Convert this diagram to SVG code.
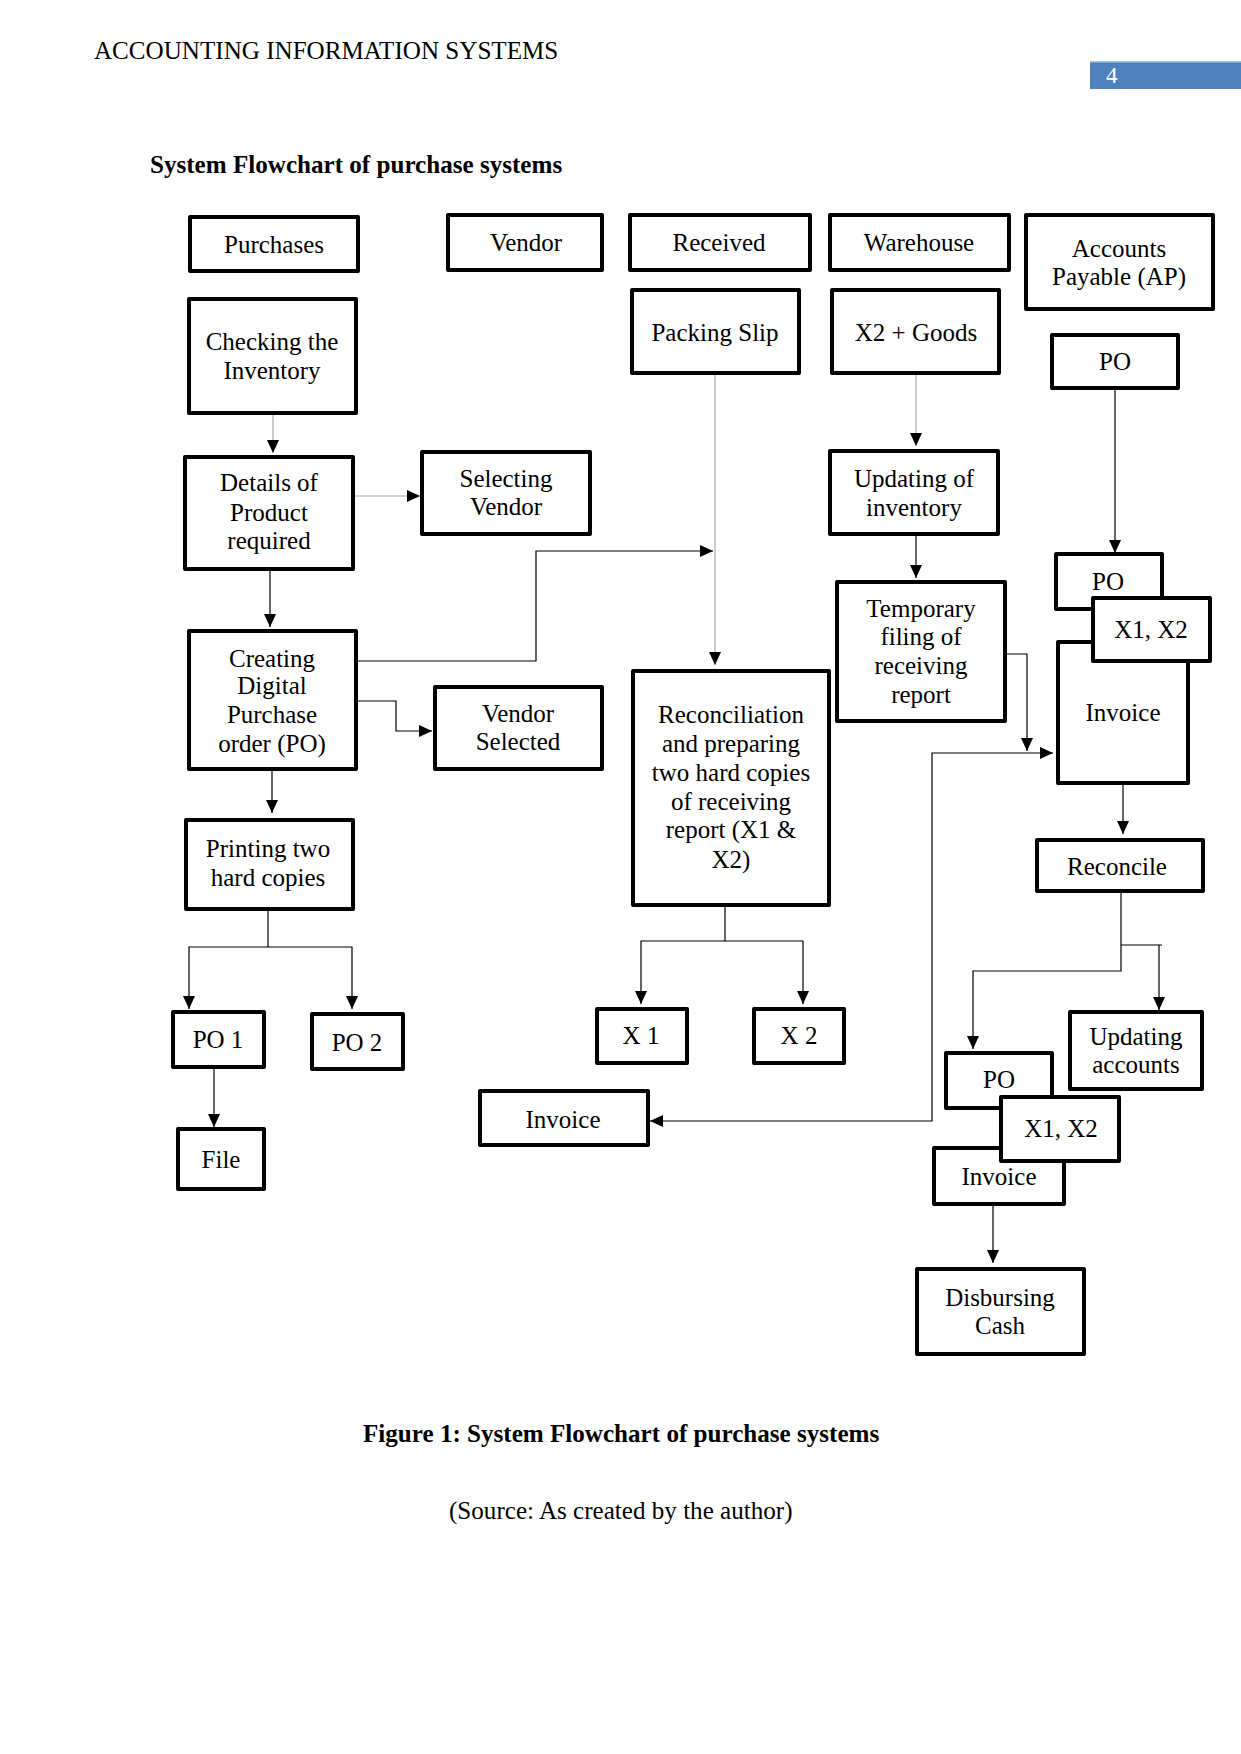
<svg xmlns="http://www.w3.org/2000/svg" width="1241" height="1754" viewBox="0 0 1241 1754">
<style>
.bg{fill:#fff}
.box{fill:#fff;stroke:#000;stroke-width:4;stroke-linejoin:round}
.t{font-family:"Liberation Serif","Times New Roman",serif;font-size:25px;fill:#000;text-anchor:middle}
.h{font-family:"Liberation Serif","Times New Roman",serif;font-size:25.1px;fill:#000}
.b{font-weight:bold}
.c{fill:none;stroke:#000;stroke-width:1.2}
.g{fill:none;stroke:#a8a8a8;stroke-width:1.2}
</style>
<defs>
<marker id="ah" viewBox="0 0 13 12" refX="13" refY="6" markerWidth="13" markerHeight="12" markerUnits="userSpaceOnUse" orient="auto-start-reverse">
<path d="M0,0 L13,6 L0,12 z" fill="#000"/>
</marker>
</defs>
<rect class="bg" x="0" y="0" width="1241" height="1754"/>

<g id="page">
<text class="h" x="94" y="59">ACCOUNTING INFORMATION SYSTEMS</text>
<rect x="1090" y="62" width="151" height="27" fill="#4F81BD"/>
<line x1="1090" y1="62" x2="1241" y2="62" stroke="#8DB3E2" stroke-width="1.5"/>
<text x="1106" y="83" font-family="Liberation Serif, serif" font-size="23" fill="#fff">4</text>
<text class="h b" x="150" y="173">System Flowchart of purchase systems</text>
<text class="h b" x="363" y="1442">Figure 1: System Flowchart of purchase systems</text>
<text class="h" x="449" y="1519">(Source: As created by the author)</text>
</g>

<g id="connectors">
<path class="g" d="M273,413 V453" marker-end="url(#ah)"/>
<path class="g" d="M353,496 H420" marker-end="url(#ah)"/>
<path class="c" d="M270,569 V627" marker-end="url(#ah)"/>
<path class="c" d="M356,661 H536 V551 H713" marker-end="url(#ah)"/>
<path class="c" d="M356,701 H396 V731 H432" marker-end="url(#ah)"/>
<path class="c" d="M272,769 V813" marker-end="url(#ah)"/>
<path class="c" d="M268,909 V947"/>
<path class="c" d="M189,1009 V947 H352 V1009" marker-start="url(#ah)" marker-end="url(#ah)"/>
<path class="c" d="M214,1067 V1127" marker-end="url(#ah)"/>
<path class="g" d="M715,373 V665" marker-end="url(#ah)"/>
<path class="c" d="M725,905 V941"/>
<path class="c" d="M641,1004 V941 H803 V1004" marker-start="url(#ah)" marker-end="url(#ah)"/>
<path class="g" d="M916,373 V446" marker-end="url(#ah)"/>
<path class="c" d="M916,534 V578" marker-end="url(#ah)"/>
<path class="c" d="M1005,654 H1027 V751" marker-end="url(#ah)"/>
<path class="c" d="M650,1121 H932 V753 H1053" marker-start="url(#ah)" marker-end="url(#ah)"/>
<path class="c" d="M1115,388 V553" marker-end="url(#ah)"/>
<path class="c" d="M1123,783 V834" marker-end="url(#ah)"/>
<path class="c" d="M1121,891 V971 H973 V1049" marker-end="url(#ah)"/>
<path class="c" d="M1121,945 H1162"/>
<path class="c" d="M1159,945 V1010" marker-end="url(#ah)"/>
<path class="c" d="M993,1204 V1263" marker-end="url(#ah)"/>
</g>

<g id="n-purchases"><rect class="box" x="190" y="217" width="168" height="54"/><text class="t" x="274" y="253">Purchases</text></g>
<g id="n-vendor"><rect class="box" x="448" y="215" width="154" height="55"/><text class="t" x="526" y="251">Vendor</text></g>
<g id="n-received"><rect class="box" x="630" y="215" width="180" height="55"/><text class="t" x="719" y="251">Received</text></g>
<g id="n-warehouse"><rect class="box" x="830" y="215" width="179" height="55"/><text class="t" x="919" y="251">Warehouse</text></g>
<g id="n-ap"><rect class="box" x="1026" y="215" width="187" height="94"/><text class="t" x="1119" y="257">Accounts</text><text class="t" x="1119" y="285">Payable (AP)</text></g>
<g id="n-checking"><rect class="box" x="189" y="299" width="167" height="114"/><text class="t" x="272" y="350">Checking the</text><text class="t" x="272" y="379">Inventory</text></g>
<g id="n-packing"><rect class="box" x="632" y="290" width="167" height="83"/><text class="t" x="715" y="341">Packing Slip</text></g>
<g id="n-x2goods"><rect class="box" x="832" y="290" width="167" height="83"/><text class="t" x="916" y="341">X2 + Goods</text></g>
<g id="n-po-ap"><rect class="box" x="1052" y="335" width="126" height="53"/><text class="t" x="1115" y="370">PO</text></g>
<g id="n-details"><rect class="box" x="185" y="457" width="168" height="112"/><text class="t" x="269" y="491">Details of</text><text class="t" x="269" y="521">Product</text><text class="t" x="269" y="549">required</text></g>
<g id="n-selecting"><rect class="box" x="422" y="452" width="168" height="82"/><text class="t" x="506" y="487">Selecting</text><text class="t" x="506" y="515">Vendor</text></g>
<g id="n-updating-inv"><rect class="box" x="830" y="451" width="168" height="83"/><text class="t" x="914" y="487">Updating of</text><text class="t" x="914" y="516">inventory</text></g>
<g id="n-po2-ap"><rect class="box" x="1056" y="554" width="106" height="55"/><text class="t" x="1108" y="590">PO</text></g>
<g id="n-invoice-ap"><rect class="box" x="1058" y="642" width="130" height="141"/><text class="t" x="1123" y="721">Invoice</text></g>
<g id="n-x1x2-ap"><rect class="box" x="1093" y="598" width="117" height="63"/><text class="t" x="1151" y="638">X1, X2</text></g>
<g id="n-temporary"><rect class="box" x="837" y="582" width="168" height="139"/><text class="t" x="921" y="617">Temporary</text><text class="t" x="921" y="645">filing of</text><text class="t" x="921" y="674">receiving</text><text class="t" x="921" y="703">report</text></g>
<g id="n-creating"><rect class="box" x="189" y="631" width="167" height="138"/><text class="t" x="272" y="667">Creating</text><text class="t" x="272" y="694">Digital</text><text class="t" x="272" y="723">Purchase</text><text class="t" x="272" y="752">order (PO)</text></g>
<g id="n-vendor-selected"><rect class="box" x="435" y="687" width="167" height="82"/><text class="t" x="518" y="722">Vendor</text><text class="t" x="518" y="750">Selected</text></g>
<g id="n-reconciliation"><rect class="box" x="633" y="671" width="196" height="234"/><text class="t" x="731" y="723">Reconciliation</text><text class="t" x="731" y="752">and preparing</text><text class="t" x="731" y="781">two hard copies</text><text class="t" x="731" y="810">of receiving</text><text class="t" x="731" y="838">report (X1 &amp;</text><text class="t" x="731" y="868">X2)</text></g>
<g id="n-printing"><rect class="box" x="186" y="820" width="167" height="89"/><text class="t" x="268" y="857">Printing two</text><text class="t" x="268" y="886">hard copies</text></g>
<g id="n-reconcile"><rect class="box" x="1037" y="840" width="166" height="51"/><text class="t" x="1117" y="875">Reconcile</text></g>
<g id="n-po1"><rect class="box" x="173" y="1012" width="91" height="55"/><text class="t" x="218" y="1048">PO 1</text></g>
<g id="n-po2"><rect class="box" x="312" y="1014" width="91" height="55"/><text class="t" x="357" y="1051">PO 2</text></g>
<g id="n-x1"><rect class="box" x="597" y="1009" width="90" height="54"/><text class="t" x="641" y="1044">X 1</text></g>
<g id="n-x2"><rect class="box" x="754" y="1009" width="90" height="54"/><text class="t" x="799" y="1044">X 2</text></g>
<g id="n-updating-acc"><rect class="box" x="1070" y="1012" width="132" height="77"/><text class="t" x="1136" y="1045">Updating</text><text class="t" x="1136" y="1073">accounts</text></g>
<g id="n-po-bottom"><rect class="box" x="946" y="1053" width="106" height="55"/><text class="t" x="999" y="1088">PO</text></g>
<g id="n-invoice-bottom"><rect class="box" x="934" y="1148" width="130" height="56"/><text class="t" x="999" y="1185">Invoice</text></g>
<g id="n-x1x2-bottom"><rect class="box" x="1001" y="1097" width="118" height="64"/><text class="t" x="1061" y="1137">X1, X2</text></g>
<g id="n-file"><rect class="box" x="178" y="1129" width="86" height="60"/><text class="t" x="221" y="1168">File</text></g>
<g id="n-invoice-left"><rect class="box" x="480" y="1091" width="168" height="54"/><text class="t" x="563" y="1128">Invoice</text></g>
<g id="n-disbursing"><rect class="box" x="917" y="1269" width="167" height="85"/><text class="t" x="1000" y="1306">Disbursing</text><text class="t" x="1000" y="1334">Cash</text></g>
</svg>
